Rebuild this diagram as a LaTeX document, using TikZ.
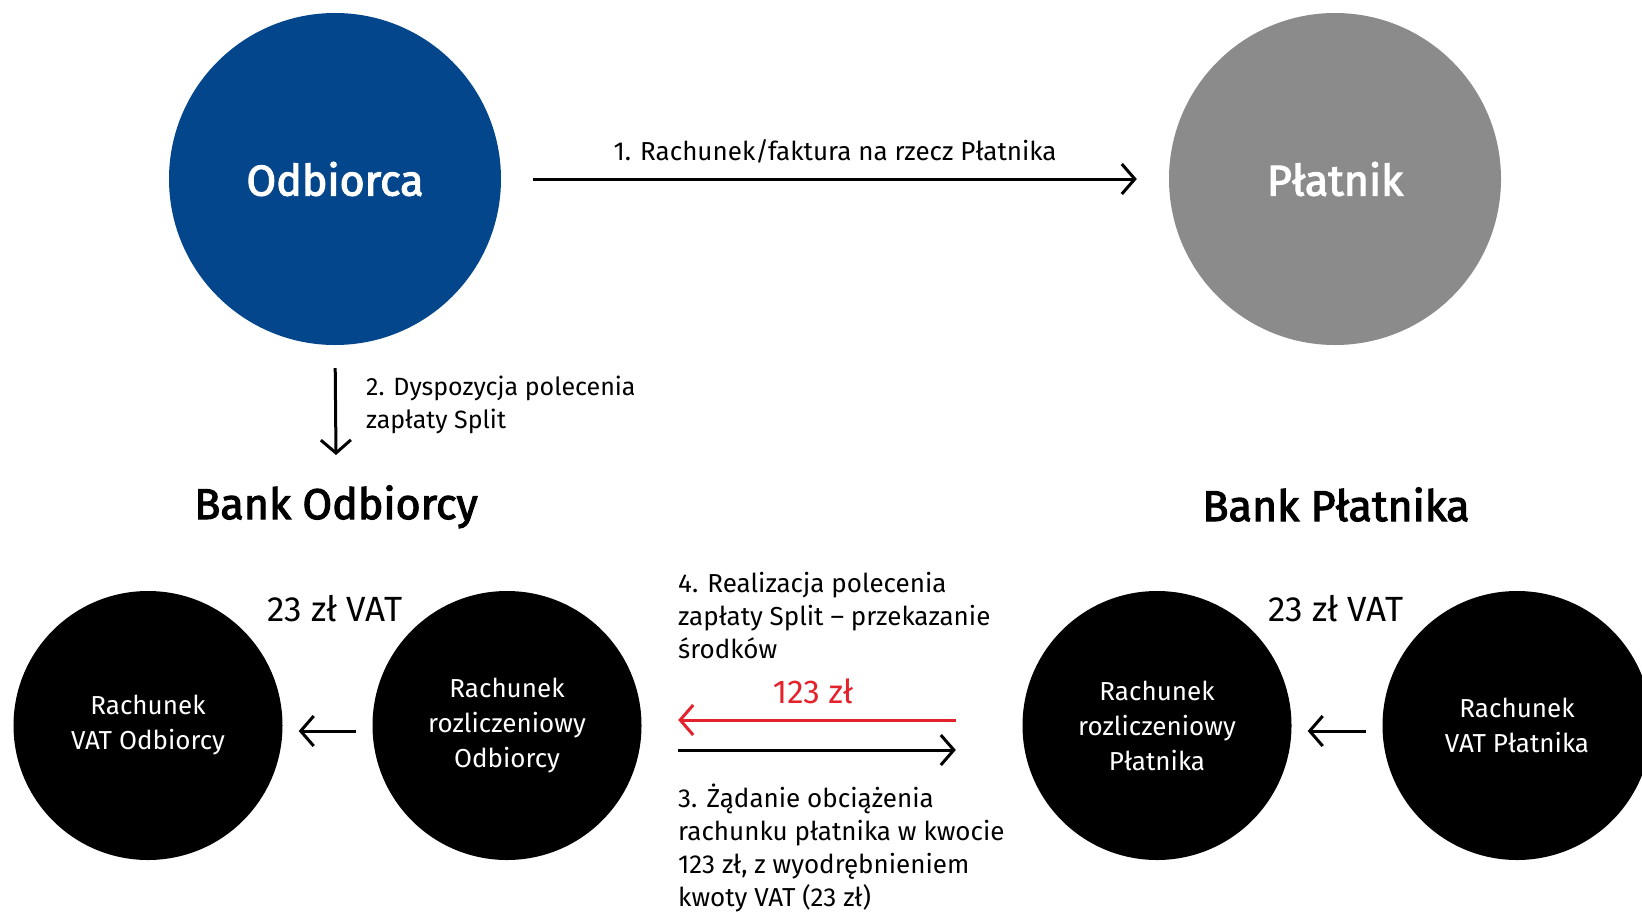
\documentclass[tikz,border=0pt]{standalone}
\usepackage{fontspec}
\setmainfont{Fira Sans}
\newfontfamily\headfont{Fira Sans}[FakeBold=2.6]
\usetikzlibrary{arrows.meta}
\definecolor{odbblue}{RGB}{4,70,140}
\definecolor{platgray}{RGB}{139,139,139}
\definecolor{kwotared}{RGB}{228,34,44}

\begin{document}
\begin{tikzpicture}[x=1bp,y=-1bp,
  duzy/.style={circle,minimum size=332bp,inner sep=0pt,text=white,font=\headfont\fontsize{43bp}{50bp}\selectfont},
  konto/.style={circle,fill=black,minimum size=269bp,inner sep=0pt,text=white,align=center,font=\fontsize{26bp}{35bp}\selectfont},
  bank/.style={inner sep=0pt,anchor=base,font=\headfont\fontsize{43bp}{50bp}\selectfont},
  opis/.style={inner sep=0pt,align=left,anchor=north west,font=\fontsize{25bp}{33bp}\selectfont},
  kwota/.style={inner sep=0pt,anchor=base,font=\fontsize{35bp}{40bp}\selectfont},
  arr/.style={line width=3bp,-{Straight Barb[length=13bp,width=30bp]}}]
\useasboundingbox (0,0) rectangle (1642,912);
\clip (0,0) rectangle (1642,912);

\node[duzy,fill=odbblue] (odb) at (335,179) {Odbiorca};
\node[duzy,fill=platgray] (plat) at (1335,179) {Płatnik};

\node[bank] (bankO) at (336,519) {Bank Odbiorcy};
\node[bank] (bankP) at (1336,521) {Bank Płatnika};

\node[konto] (vatO) at (148,725.5) {Rachunek\\VAT Odbiorcy};
\node[konto] (rozO) at (507,725.5) {Rachunek\\rozliczeniowy\\Odbiorcy};
\node[konto] (rozP) at (1157,725.5) {Rachunek\\rozliczeniowy\\Płatnika};
\node[konto] (vatP) at (1517,725.5) {Rachunek\\VAT Płatnika};

\node[kwota] (vatkwO) at (335,621) {23 zł VAT};
\node[kwota] (vatkwP) at (1336,621) {23 zł VAT};

\draw[arr,shorten <=32bp,shorten >=32bp] (odb) -- (plat)
  node[midway,above=14bp,inner sep=0pt,font=\fontsize{26bp}{30bp}\selectfont] (krok1) {1. Rachunek/faktura na rzecz Płatnika};

\coordinate (d2) at (336,455);
\draw[arr,shorten <=23bp] (odb.south) -- (d2);
\node[opis] (krok2) at (366,376) {2. Dyspozycja polecenia\\zapłaty Split};

\draw[arr,shorten <=16bp,shorten >=16bp] ([yshift=-5.5bp]rozO.west) -- ([yshift=-5.5bp]vatO.east);
\draw[arr,shorten <=16bp,shorten >=16bp] ([yshift=-5.5bp]vatP.west) -- ([yshift=-5.5bp]rozP.east);

\draw[arr,kwotared,shorten <=66.5bp,shorten >=36.5bp] ([yshift=5.5bp]rozP.west) -- ([yshift=5.5bp]rozO.east);
\draw[arr,shorten <=36.5bp,shorten >=66.5bp] ([yshift=-24.5bp]rozO.east) -- ([yshift=-24.5bp]rozP.west);
\node[inner sep=0pt,anchor=base,text=kwotared,font=\fontsize{33bp}{36bp}\selectfont] (kw123) at (813,703) {123 zł};

\node[opis,font=\fontsize{26bp}{33bp}\selectfont] (krok4) at (678,572) {4. Realizacja polecenia\\zapłaty Split – przekazanie\\środków};
\node[opis,font=\fontsize{26bp}{33bp}\selectfont] (krok3) at (678,784) {3. Żądanie obciążenia\\rachunku płatnika w kwocie\\123 zł, z wyodrębnieniem\\kwoty VAT (23 zł)};
\end{tikzpicture}
\end{document}
